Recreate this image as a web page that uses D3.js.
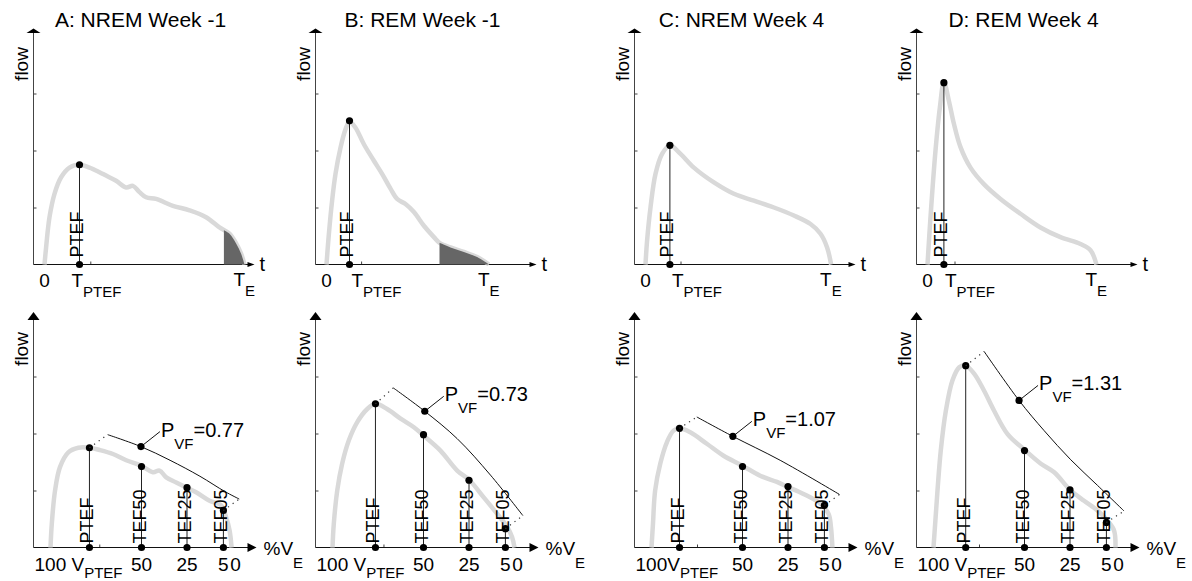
<!DOCTYPE html>
<html>
<head>
<meta charset="utf-8">
<script src="https://cdn.jsdelivr.net/npm/d3@7"></script>
<style>
  body { margin: 0; background: #fff; }
  svg { display: block; }
  text { font-family: "Liberation Sans", Arial, sans-serif; fill: #000; }
</style>
</head>
<body>
<svg id="chart" width="1192" height="581"></svg>
<script>
///// *** DATA *** /////
var titles = ['A: NREM Week -1', 'B: REM Week -1', 'C: NREM Week 4', 'D: REM Week 4'];

// flow against time, [t, flow]
var timeA = [[0,0],[0.08,0.30],[0.25,0.83],[0.5,1.24],[0.83,1.53],[1.25,1.70],[1.75,1.75],[2.25,1.70],[2.75,1.62],[3.08,1.56],[3.58,1.47],[4.08,1.35],[4.42,1.38],[4.75,1.27],[5.08,1.18],[5.58,1.15],[6.42,1.03],[7.25,0.95],[8.08,0.83],[8.75,0.65],[9.25,0.54],[9.58,0.37],[9.83,0.19],[10,0]];
var timeB = [[0,0],[0.12,0.54],[0.28,1.12],[0.45,1.59],[0.70,2.05],[0.95,2.37],[1.15,2.51],[1.45,2.40],[1.87,2.11],[2.37,1.82],[2.78,1.59],[3.2,1.33],[3.53,1.15],[3.95,1.06],[4.37,0.92],[4.87,0.68],[5.37,0.48],[5.65,0.38],[6.2,0.30],[6.87,0.22],[7.53,0.13],[8.12,0]];
var timeC = [[0,0],[0.08,0.42],[0.25,1.0],[0.5,1.59],[0.83,1.94],[1.22,2.09],[1.75,1.94],[2.42,1.70],[3.42,1.44],[4.42,1.24],[5.42,1.12],[6.42,1.0],[7.42,0.86],[8.25,0.71],[8.75,0.54],[9.08,0.30],[9.28,0]];
var timeD = [[0,0],[0.15,0.83],[0.4,2.0],[0.62,2.76],[0.82,3.20],[1.07,2.87],[1.32,2.47],[1.65,2.06],[2.15,1.70],[2.82,1.41],[3.65,1.15],[4.65,0.89],[5.65,0.65],[6.65,0.48],[7.65,0.36],[8.15,0.25],[8.45,0]];
var timeCurves = [timeA, timeB, timeC, timeD];
var tPeak = [1.75, 1.15, 1.22, 0.82];
var shadeFrom = [8.97, 5.65, null, null];
var tTick = [2.29, 1.73, 1.75, 1.35];
var tLabelShift = [-2, 8, 8, 7];

// flow against exhaled volume, [%VE, flow]
var volA = [[100,0],[99.3,0.41],[97.5,1.0],[94.8,1.41],[90.2,1.67],[84.7,1.75],[78.6,1.75],[73.0,1.71],[65.7,1.64],[58.4,1.53],[50.5,1.44],[43.7,1.32],[40.1,1.35],[36.4,1.23],[30.9,1.14],[25.8,1.06],[20.0,0.97],[12.6,0.82],[6.2,0.74],[3.5,0.53],[1.6,0.30],[0.5,0]];
var volB = [[100,0],[99.3,0.41],[97.4,1.0],[94.7,1.47],[91.0,1.88],[86.4,2.20],[80.9,2.43],[76.4,2.52],[70.0,2.43],[62.6,2.26],[55.3,2.11],[49.8,1.96],[40.7,1.70],[31.5,1.35],[24.7,1.18],[16.9,0.88],[9.5,0.59],[4.0,0.36],[1.3,0.18],[0,0]];
var volC = [[100,0],[99.2,0.41],[98.0,1.0],[95.2,1.47],[91.5,1.85],[87.9,2.05],[84.6,2.09],[78.7,2.02],[69.6,1.82],[60.4,1.61],[50.3,1.44],[40.3,1.26],[31.1,1.15],[25.6,1.07],[16.5,0.94],[7.3,0.77],[2.7,0.59],[1.4,0.36],[0.6,0]];
var volD = [[100,0],[99.1,0.41],[97.8,1.0],[96.0,1.70],[93.2,2.40],[89.6,2.93],[85.9,3.16],[82.3,3.19],[77.7,3.05],[72.2,2.75],[66.7,2.40],[59.3,1.99],[49.8,1.71],[41.0,1.47],[33.7,1.32],[24.9,1.01],[17.3,0.82],[9.9,0.65],[4.4,0.47],[0.8,0.30],[0,0]];
var volCurves = [volA, volB, volC, volD];
var vPtef = [78.6, 76.4, 84.6, 82.3];
var ptefFlow = [1.75, 2.52, 2.09, 3.19];
var tefLevels = [50, 25, 5];
var tefNames = ['TEF50', 'TEF25', 'TEF05'];
var tefFlow = [[1.42,1.05,0.65],[1.98,1.18,0.33],[1.42,1.07,0.74],[1.70,1.01,0.44]];
var vTick = [73.2, 72, 75, 75];
var firstVolLabel = ['100 V', '100 V', '100V', '100 V'];
var volTickLabels = ['50', '25', '5', '0'];
var volTickValues = [50, 25, 5, 0];

// fitted P_VF curves
var pvfA = [[68.6,1.98],[50.3,1.77],[34.3,1.53],[17.9,1.25],[4.1,0.98],[-3.7,0.85]];
var pvfB = [[66.6,2.80],[49.3,2.39],[31.5,1.91],[13.2,1.27],[-4.6,0.56]];
var pvfC = [[75.1,2.29],[55.3,1.95],[29.3,1.53],[-3.3,0.93]];
var pvfD = [[72.2,3.44],[53.0,2.58],[39.2,2.05],[24.6,1.54],[9.9,1.09],[-4.7,0.64]];
var pvfCurves = [pvfA, pvfB, pvfC, pvfD];
var pvfDot = [[50.3,1.77],[49.3,2.39],[55.3,1.95],[53.0,2.58]];
var pvfValues = ['0.77', '0.73', '1.07', '1.31'];

///// *** LAYOUT *** /////
var svg = d3.select('#chart'),
    panelX = [33.5, 315.5, 634.5, 916.5],
    topBase = 264.5,
    botBase = 547.5,
    unit = 57,
    curveColor = '#d9d9d9',
    axisColor = '#444';

panelX.forEach(function(x0, i){
  drawTime(i, x0);
  drawVolume(i, x0);
});

///// *** HELPERS *** /////
function ticks(g, axis, tr){
  g.append('g').attr('transform', tr).call(axis)
    .call(function(a){
      a.select('.domain').remove();
      a.selectAll('line').attr('stroke', axisColor);
    });
}

function dot(g, cx, cy){
  g.append('circle').attr('cx', cx).attr('cy', cy).attr('r', 3.6).attr('fill', '#000');
}

function vline(g, x, y1, y2){
  g.append('line').attr('x1', x).attr('x2', x).attr('y1', y1).attr('y2', y2)
    .attr('stroke', '#222').attr('stroke-width', 1);
}

function subText(g, x, y, main, sub, size, subSize, dy, after, anchor){
  var t = g.append('text').attr('x', x).attr('y', y)
    .attr('font-size', size).attr('text-anchor', anchor || 'start');
  t.append('tspan').text(main);
  t.append('tspan').attr('font-size', subSize).attr('dy', dy).text(sub);
  if (after) t.append('tspan').attr('dy', -dy).text(after);
  return t;
}

function rotLabel(g, x, y, txt, size, anchor){
  g.append('text').attr('transform', 'translate(' + x + ',' + y + ') rotate(-90)')
    .attr('font-size', size).attr('text-anchor', anchor || 'start').text(txt);
}

function axesFrame(g, x0, base, yTop, xEnd, big){
  g.append('line').attr('x1', x0).attr('x2', x0).attr('y1', base).attr('y2', yTop + 3)
    .attr('stroke', axisColor);
  g.append('line').attr('x1', x0).attr('x2', xEnd - 3).attr('y1', base).attr('y2', base)
    .attr('stroke', '#111');
  if (big) {
    g.append('path').attr('d', 'M' + x0 + ',' + yTop + 'l-6,8h12z').attr('fill', '#000');
    g.append('path').attr('d', 'M' + xEnd + ',' + base + 'l-9,-4.5v9z').attr('fill', '#000');
  } else {
    g.append('path').attr('d', 'M' + x0 + ',' + yTop + 'l-7,4.5h14z').attr('fill', '#000');
    g.append('path').attr('d', 'M' + xEnd + ',' + base + 'l-7,-2.5v5z').attr('fill', '#000');
  }
}

///// *** FLOW vs TIME *** /////
function drawTime(i, x0){
  var g = svg.append('g'),
      data = timeCurves[i],
      tEnd = data[data.length - 1][0],
      x = d3.scaleLinear().domain([0, 10]).range([x0 + 11, x0 + 211]),
      y = d3.scaleLinear().domain([0, 4]).range([topBase, topBase - 4 * unit]);

  g.append('text').attr('x', x0 + 107).attr('y', 27).attr('text-anchor', 'middle')
    .attr('font-size', 21).text(titles[i]);
  rotLabel(g, x0 - 6, 64, 'flow', 19, 'middle');

  ticks(g, d3.axisLeft(y).tickValues([1, 2, 3]).tickSize(-3).tickFormat(''), 'translate(' + x0 + ',0)');
  ticks(g, d3.axisBottom(x).tickValues([tTick[i]]).tickSize(-3).tickFormat(''), 'translate(0,' + topBase + ')');
  axesFrame(g, x0, topBase, 28.5, x0 + 221, false);

  var line = d3.line().x(function(d){ return x(d[0]); }).y(function(d){ return y(d[1]); })
    .curve(d3.curveCatmullRom.alpha(0.5));
  g.append('path').datum(data).attr('d', line)
    .attr('fill', 'none').attr('stroke', curveColor).attr('stroke-width', 4.5);

  // shaded tail of the expiration
  if (shadeFrom[i] != null) {
    var s = shadeFrom[i],
        k = d3.bisector(function(d){ return d[0]; }).left(data, s),
        a = data[k - 1], b = data[k],
        f = a[1] + (b[1] - a[1]) * (s - a[0]) / (b[0] - a[0]),
        part = [[s, f]].concat(data.slice(k));
    var area = d3.area().x(function(d){ return x(d[0]); }).y0(y(0)).y1(function(d){ return y(d[1]); })
      .curve(d3.curveCatmullRom.alpha(0.5));
    g.append('path').datum(part).attr('d', area).attr('fill', '#666');
  }

  var px = x(tPeak[i]);
  vline(g, px, y(ptefFlow[i]), y(0));
  dot(g, px, y(ptefFlow[i]));
  dot(g, px, y(0));
  rotLabel(g, px + 3, topBase - 7, 'PTEF', 18);

  g.append('text').attr('x', x(0)).attr('y', 287).attr('text-anchor', 'middle')
    .attr('font-size', 19).text('0');
  subText(g, px + tLabelShift[i] - 6, 287, 'T', 'PTEF', 19, 15, 10);
  subText(g, x(tEnd) - 11, 286, 'T', 'E', 19, 15, 10);
  g.append('text').attr('x', x0 + 226).attr('y', 271).attr('font-size', 20).text('t');
}

///// *** FLOW vs VOLUME *** /////
function drawVolume(i, x0){
  var g = svg.append('g'),
      data = volCurves[i],
      pvf = pvfCurves[i],
      x = d3.scaleLinear().domain([100, 0]).range([x0 + 17, x0 + 199]),
      y = d3.scaleLinear().domain([0, 4]).range([botBase, botBase - 4 * unit]);

  rotLabel(g, x0 - 6, 349, 'flow', 19, 'middle');

  ticks(g, d3.axisLeft(y).tickValues([1, 2, 3]).tickSize(-3).tickFormat(''), 'translate(' + x0 + ',0)');
  ticks(g, d3.axisBottom(x).tickValues([vTick[i]]).tickSize(-3).tickFormat(''), 'translate(0,' + botBase + ')');
  axesFrame(g, x0, botBase, 312, x0 + 223, true);

  var line = d3.line().x(function(d){ return x(d[0]); }).y(function(d){ return y(d[1]); })
    .curve(d3.curveCatmullRom.alpha(0.5));
  g.append('path').datum(data).attr('d', line)
    .attr('fill', 'none').attr('stroke', curveColor).attr('stroke-width', 4.5);

  // markers: PTEF, TEF50, TEF25, TEF05
  var marks = [[vPtef[i], ptefFlow[i], 'PTEF']];
  tefLevels.forEach(function(v, j){ marks.push([v, tefFlow[i][j], tefNames[j]]); });
  marks.forEach(function(m){
    var mx = x(m[0]);
    vline(g, mx, y(m[1]), y(0));
    rotLabel(g, mx + 4, botBase - 4, m[2], 18);
    dot(g, mx, y(m[1]));
    dot(g, mx, y(0));
  });

  // fitted P_VF curve and its dotted links
  g.append('path').datum(pvf).attr('d', line)
    .attr('fill', 'none').attr('stroke', '#111').attr('stroke-width', 1);
  var dotted = [
    [[vPtef[i], ptefFlow[i]], pvf[0]],
    [[tefLevels[2], tefFlow[i][2]], pvf[pvf.length - 1]]
  ];
  dotted.forEach(function(seg){
    g.append('path').datum(seg).attr('d', d3.line().x(function(d){ return x(d[0]); }).y(function(d){ return y(d[1]); }))
      .attr('stroke', '#333').attr('stroke-width', 1.2).attr('stroke-dasharray', '1.2,4.5').attr('fill', 'none');
  });

  var dx = x(pvfDot[i][0]), dy = y(pvfDot[i][1]);
  g.append('line').attr('x1', dx).attr('y1', dy).attr('x2', dx + 19).attr('y2', dy - 15)
    .attr('stroke', '#111');
  dot(g, dx, dy);
  subText(g, dx + 20, dy - 10, 'P', 'VF', 20, 15, 12, '=' + pvfValues[i]);

  // volume tick labels
  subText(g, x(100) - 16, 571, firstVolLabel[i], 'PTEF', 19, 15, 7);
  volTickValues.forEach(function(v, j){
    g.append('text').attr('x', x(v) + (v === 0 ? 3 : 0)).attr('y', 571)
      .attr('text-anchor', 'middle').attr('font-size', 19).text(volTickLabels[j]);
  });
  subText(g, x0 + 230, 555, '%V', 'E', 19, 15, 13);
}
</script>
</body>
</html>
